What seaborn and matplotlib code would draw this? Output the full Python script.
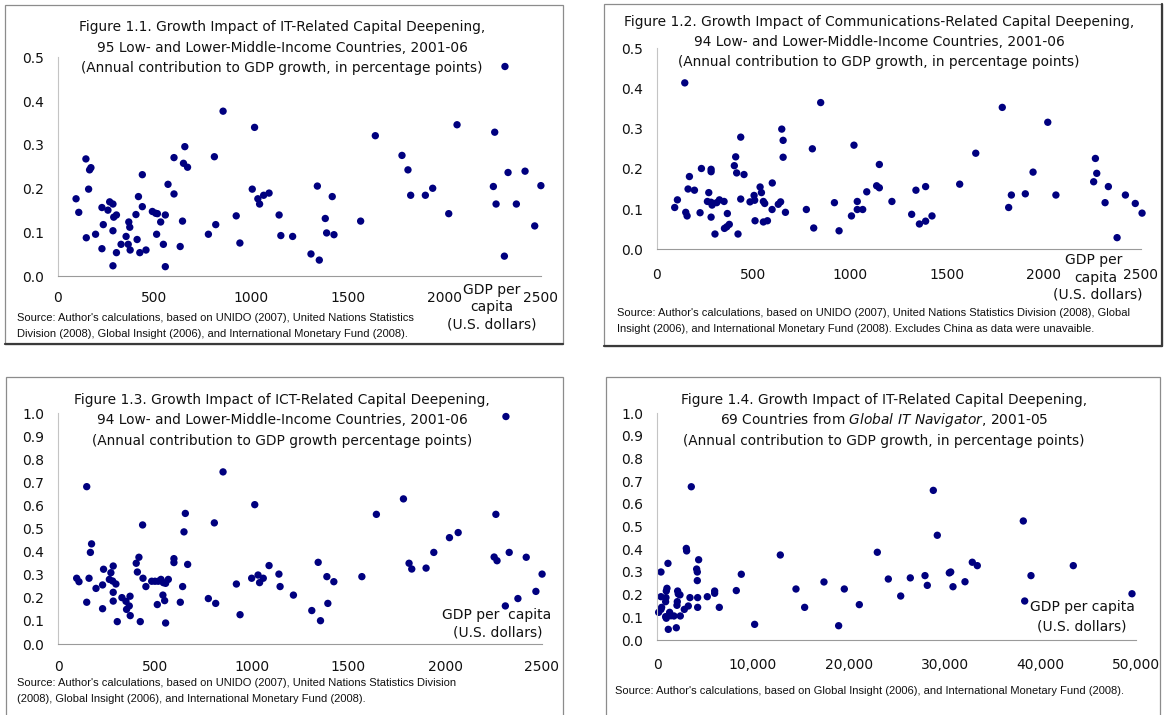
import matplotlib.pyplot as plt
import matplotlib.ticker as mticker
import seaborn as sns
from matplotlib.lines import Line2D
from matplotlib.patches import Rectangle

# Figure 1.1: IT-related capital deepening, 95 countries
gdp_11 = [95, 109, 146, 148, 160, 165, 172, 196, 229, 229,
          236, 260, 269, 286, 286, 286, 290, 304, 304, 328,
          354, 365, 368, 373, 375, 405, 411, 418, 425, 438,
          438, 457, 490, 507, 516, 512, 533, 547, 557, 557,
          571, 602, 602, 634, 646, 651, 658, 672, 780, 811,
          818, 856, 924, 943, 1007, 1019, 1036, 1045, 1066, 1094,
          1146, 1155, 1216, 1311, 1344, 1354, 1385, 1392, 1421, 1430,
          1568, 1644, 1782, 1813, 1827, 1903, 1941, 2024, 2067, 2255,
          2262, 2269, 2312, 2315, 2331, 2374, 2419, 2469, 2501]
it_11 = [0.177, 0.146, 0.268, 0.088, 0.199, 0.243, 0.248, 0.096, 0.157, 0.063,
         0.118, 0.151, 0.170, 0.165, 0.104, 0.024, 0.135, 0.140, 0.054, 0.073,
         0.091, 0.073, 0.124, 0.112, 0.060, 0.141, 0.084, 0.182, 0.054, 0.159,
         0.232, 0.060, 0.148, 0.144, 0.143, 0.096, 0.124, 0.073, 0.140, 0.022,
         0.210, 0.271, 0.188, 0.068, 0.126, 0.258, 0.296, 0.249, 0.096, 0.273,
         0.118, 0.377, 0.138, 0.076, 0.199, 0.340, 0.177, 0.165, 0.185, 0.190,
         0.140, 0.093, 0.091, 0.051, 0.206, 0.037, 0.132, 0.099, 0.182, 0.095,
         0.126, 0.321, 0.276, 0.243, 0.185, 0.185, 0.201, 0.143, 0.346, 0.205,
         0.329, 0.165, 0.046, 0.479, 0.237, 0.165, 0.240, 0.115, 0.207]

# Figure 1.2: communications-related capital deepening, 94 countries
gdp_12 = [93, 107, 145, 150, 157, 162, 169, 195, 224, 231,
          269, 262, 281, 281, 281, 281, 286, 301, 310, 324,
          348, 350, 362, 365, 375, 401, 408, 413, 420, 434,
          434, 451, 482, 503, 506, 508, 534, 541, 551, 558,
          551, 572, 596, 597, 628, 640, 646, 653, 653, 665,
          773, 804, 811, 847, 918, 942, 1006, 1019, 1036, 1036,
          1064, 1085, 1136, 1150, 1150, 1215, 1317, 1339, 1357, 1389,
          1389, 1422, 1565, 1648, 1785, 1818, 1832, 1904, 1944, 2020,
          2062, 2257, 2266, 2273, 2316, 2333, 2378, 2421, 2472, 2507]
comm_12 = [0.104, 0.123, 0.414, 0.092, 0.083, 0.150, 0.181, 0.147, 0.091, 0.201,
           0.141, 0.119, 0.199, 0.193, 0.117, 0.080, 0.110, 0.038, 0.116, 0.123,
           0.119, 0.052, 0.056, 0.089, 0.062, 0.208, 0.230, 0.190, 0.038, 0.279,
           0.125, 0.186, 0.118, 0.134, 0.122, 0.071, 0.155, 0.141, 0.119, 0.114,
           0.068, 0.071, 0.099, 0.165, 0.112, 0.118, 0.299, 0.271, 0.229, 0.092,
           0.099, 0.250, 0.053, 0.365, 0.116, 0.046, 0.083, 0.259, 0.119, 0.099,
           0.099, 0.143, 0.158, 0.153, 0.211, 0.119, 0.087, 0.147, 0.063, 0.156,
           0.070, 0.083, 0.162, 0.239, 0.353, 0.104, 0.135, 0.138, 0.192, 0.316,
           0.135, 0.168, 0.226, 0.189, 0.116, 0.156, 0.029, 0.135, 0.114, 0.090]

# Figure 1.3: ICT-related capital deepening, 94 countries
gdp_13 = [95, 107, 147, 147, 159, 166, 172, 195, 229, 229,
          234, 264, 272, 281, 284, 284, 284, 298, 305, 329,
          350, 353, 367, 371, 372, 403, 409, 417, 424, 436,
          438, 453, 483, 500, 517, 531, 543, 541, 550, 555,
          555, 569, 512, 598, 598, 631, 643, 650, 657, 669,
          776, 807, 814, 852, 921, 940, 1000, 1016, 1033, 1041,
          1060, 1090, 1141, 1147, 1216, 1311, 1344, 1356, 1389, 1394,
          1425, 1570, 1645, 1785, 1814, 1828, 1902, 1942, 2023, 2068,
          2254, 2263, 2269, 2312, 2315, 2332, 2377, 2420, 2470, 2502]
ict_13 = [0.285, 0.270, 0.682, 0.181, 0.285, 0.397, 0.434, 0.241, 0.256, 0.153,
          0.324, 0.280, 0.309, 0.273, 0.338, 0.224, 0.186, 0.260, 0.097, 0.201,
          0.185, 0.150, 0.165, 0.207, 0.123, 0.350, 0.312, 0.376, 0.097, 0.516,
          0.285, 0.249, 0.272, 0.272, 0.272, 0.280, 0.266, 0.212, 0.188, 0.263,
          0.091, 0.280, 0.171, 0.370, 0.353, 0.181, 0.249, 0.486, 0.566, 0.345,
          0.197, 0.525, 0.176, 0.746, 0.260, 0.127, 0.285, 0.604, 0.299, 0.266,
          0.285, 0.340, 0.303, 0.249, 0.212, 0.145, 0.354, 0.101, 0.292, 0.176,
          0.270, 0.292, 0.562, 0.629, 0.350, 0.325, 0.329, 0.397, 0.461, 0.483,
          0.377, 0.562, 0.361, 0.165, 0.986, 0.397, 0.197, 0.376, 0.228, 0.303]

# Figure 1.4: IT-related capital deepening, 69 countries (Global IT Navigator)
gdp_14 = [140, 383, 383, 383, 453, 870, 870, 940, 1010, 905,
          940, 1114, 1149, 1288, 1428, 1741, 1985, 2054, 2089, 2124,
          2194, 2368, 2402, 2820, 3029, 3064, 3238, 3412, 3551, 4109,
          4178, 4178, 4213, 4213, 4318, 5223, 5989, 5989, 6476, 8252,
          8774, 10167, 12848, 14485, 15390, 17409, 18941, 19533, 21100, 22981,
          24130, 25423, 26426, 27961, 28202, 28829, 29246, 30500, 30646, 30885,
          32139, 32901, 33424, 38228, 38374, 39032, 43451, 49582]
it_14 = [0.122, 0.300, 0.191, 0.135, 0.144, 0.169, 0.103, 0.216, 0.228, 0.187,
         0.096, 0.338, 0.047, 0.122, 0.107, 0.106, 0.054, 0.153, 0.169, 0.216,
         0.203, 0.199, 0.106, 0.135, 0.404, 0.393, 0.150, 0.187, 0.676, 0.313,
         0.300, 0.262, 0.187, 0.144, 0.354, 0.191, 0.216, 0.206, 0.144, 0.218,
         0.290, 0.069, 0.375, 0.225, 0.144, 0.256, 0.063, 0.225, 0.156, 0.387,
         0.269, 0.194, 0.274, 0.284, 0.241, 0.660, 0.462, 0.296, 0.300, 0.235,
         0.257, 0.343, 0.328, 0.525, 0.172, 0.284, 0.328, 0.204]

titles_11 = ["Figure 1.1. Growth Impact of IT-Related Capital Deepening,",
             "95 Low- and Lower-Middle-Income Countries, 2001-06",
             "(Annual contribution to GDP growth, in percentage points)"]
titles_12 = ["Figure 1.2. Growth Impact of Communications-Related Capital Deepening,",
             "94 Low- and Lower-Middle-Income Countries, 2001-06",
             "(Annual contribution to GDP growth, in percentage points)"]
titles_13 = ["Figure 1.3. Growth Impact of ICT-Related Capital Deepening,",
             "94 Low- and Lower-Middle-Income Countries, 2001-06",
             "(Annual contribution to GDP growth percentage points)"]
titles_14 = ["Figure 1.4. Growth Impact of IT-Related Capital Deepening,",
             r"69 Countries from $\mathit{Global\ IT\ Navigator}$, 2001-05",
             "(Annual contribution to GDP growth, in percentage points)"]

source_11 = ["Source: Author's calculations, based on UNIDO (2007), United Nations Statistics",
             "Division (2008), Global Insight (2006), and International Monetary Fund (2008)."]
source_12 = ["Source: Author's calculations, based on UNIDO (2007), United Nations Statistics Division (2008), Global",
             "Insight (2006), and International Monetary Fund (2008). Excludes China as data were unavaible."]
source_13 = ["Source: Author's calculations, based on UNIDO (2007), United Nations Statistics Division",
             "(2008), Global Insight (2006), and International Monetary Fund (2008)."]
source_14 = ["Source: Author's calculations, based on Global Insight (2006), and International Monetary Fund (2008)."]

W, H = 1164, 715
DOT = "#00007f"
MAIN_FONT = "DejaVu Sans"
SRC_FONT = "Liberation Sans"
TITLE_SIZE = 9.9
SRC_SIZE = 8.0
INK = "#111111"

sns.set_style("white")
plt.rcParams["font.family"] = [MAIN_FONT]
plt.rcParams["text.color"] = INK
plt.rcParams["xtick.labelcolor"] = INK
plt.rcParams["ytick.labelcolor"] = INK
plt.rcParams["mathtext.fontset"] = "custom"
plt.rcParams["mathtext.it"] = "DejaVu Sans:italic"
plt.rcParams["mathtext.rm"] = "DejaVu Sans"

fig = plt.figure(figsize=(W / 100, H / 100), dpi=100)


def ftext(x, y, s, **kw):
    fig.text(x / W, 1 - y / H, s, va="center", **kw)


def box(x0, y0, x1, y1, dark_bottom=False, dark_right=False):
    fig.patches.append(Rectangle((x0 / W, 1 - y1 / H), (x1 - x0) / W, (y1 - y0) / H,
                                 transform=fig.transFigure, fill=False,
                                 edgecolor="#8c8c8c", lw=0.9))
    if dark_bottom:
        fig.lines.append(Line2D([x0 / W, x1 / W], [1 - y1 / H] * 2, transform=fig.transFigure,
                                color="#3a3a3a", lw=1.6))
    if dark_right:
        fig.lines.append(Line2D([x1 / W] * 2, [1 - y0 / H, 1 - y1 / H], transform=fig.transFigure,
                                color="#3a3a3a", lw=1.6))


def panel(x, y, ax_px, xmax, ymax, xticks, yticks, xpad, xfmt=None):
    x0, x1, ytop, ybot = ax_px
    ax = fig.add_axes([x0 / W, 1 - ybot / H, (x1 - x0) / W, (ybot - ytop) / H])
    sns.scatterplot(x=x, y=y, ax=ax, color=DOT, s=28, edgecolor="none", linewidth=0,
                    clip_on=False)
    ax.set_xlim(0, xmax)
    ax.set_ylim(0, ymax)
    ax.set_xticks(xticks)
    ax.set_yticks(yticks)
    ax.yaxis.set_major_formatter(mticker.FormatStrFormatter("%.1f"))
    if xfmt is not None:
        ax.xaxis.set_major_formatter(xfmt)
    for side in ["top", "right"]:
        ax.spines[side].set_visible(False)
    ax.spines["left"].set_color("#c4c4c4")
    ax.spines["bottom"].set_color("#9a9a9a")
    ax.spines["left"].set_linewidth(0.8)
    ax.spines["bottom"].set_linewidth(0.8)
    ax.tick_params(axis="y", direction="out", length=4, width=0.8, color="#b0b0b0",
                   labelsize=10, pad=6, labelcolor=INK)
    ax.tick_params(axis="x", direction="in", length=4, width=0.8, color="#b0b0b0",
                   labelsize=10, pad=xpad, labelcolor=INK)
    ax.set_xlabel("")
    ax.set_ylabel("")
    ax.patch.set_alpha(0)
    return ax


# panel frames
box(5, 5, 563, 344, dark_bottom=True)
box(604, 4, 1162, 346, dark_bottom=True, dark_right=True)
box(6, 377, 563, 720)
box(606, 377, 1160, 720)

# 1.1
panel(gdp_11, it_11, (57.7, 540.7, 57.3, 276.3), 2500, 0.5,
      [0, 500, 1000, 1500, 2000, 2500], [0, 0.1, 0.2, 0.3, 0.4, 0.5], 10.5)
for i, t in enumerate(titles_11):
    ftext(282, 27 + 20.5 * i, t, ha="center", fontsize=TITLE_SIZE)
ftext(492, 290, "GDP per", ha="center", fontsize=10)
ftext(492, 307, "capita", ha="center", fontsize=10)
ftext(492, 324, "(U.S. dollars)", ha="center", fontsize=10)
for i, t in enumerate(source_11):
    ftext(17, 318 + 16 * i, t, ha="left", fontsize=SRC_SIZE, family=SRC_FONT)

# 1.2
panel(gdp_12, comm_12, (656.7, 1140.7, 48.3, 249.3), 2500, 0.5,
      [0, 500, 1000, 1500, 2000, 2500], [0, 0.1, 0.2, 0.3, 0.4, 0.5], 13.5)
for i, t in enumerate(titles_12):
    ftext(879, 22 + 20 * i, t, ha="center", fontsize=TITLE_SIZE)
ftext(1094, 260, "GDP per", ha="center", fontsize=10)
ftext(1096, 278, "capita", ha="center", fontsize=10)
ftext(1098, 295, "(U.S. dollars)", ha="center", fontsize=10)
for i, t in enumerate(source_12):
    ftext(617, 313 + 16 * i, t, ha="left", fontsize=SRC_SIZE, family=SRC_FONT)

# 1.3
panel(gdp_13, ict_13, (58.3, 541.7, 413.3, 644), 2500, 1.0,
      [0, 500, 1000, 1500, 2000, 2500], [i / 10 for i in range(11)], 11.3)
for i, t in enumerate(titles_13):
    ftext(282, 399.5 + 20.5 * i, t, ha="center", fontsize=TITLE_SIZE)
ftext(497, 615, "GDP per  capita", ha="center", fontsize=10)
ftext(498, 633, "(U.S. dollars)", ha="center", fontsize=10)
for i, t in enumerate(source_13):
    ftext(17, 683 + 16 * i, t, ha="left", fontsize=SRC_SIZE, family=SRC_FONT)

# 1.4
panel(gdp_14, it_14, (657.3, 1136, 413.3, 640), 50000, 1.0,
      [0, 10000, 20000, 30000, 40000, 50000], [i / 10 for i in range(11)], 13,
      xfmt=mticker.StrMethodFormatter("{x:,.0f}"))
for i, t in enumerate(titles_14):
    ftext(884, 399.5 + 20.5 * i, t, ha="center", fontsize=TITLE_SIZE)
ftext(1082, 607, "GDP per capita", ha="center", fontsize=10)
ftext(1082, 626, "(U.S. dollars)", ha="center", fontsize=10)
for i, t in enumerate(source_14):
    ftext(615, 691, t, ha="left", fontsize=SRC_SIZE, family=SRC_FONT)

plt.savefig("out.png", dpi=100)
